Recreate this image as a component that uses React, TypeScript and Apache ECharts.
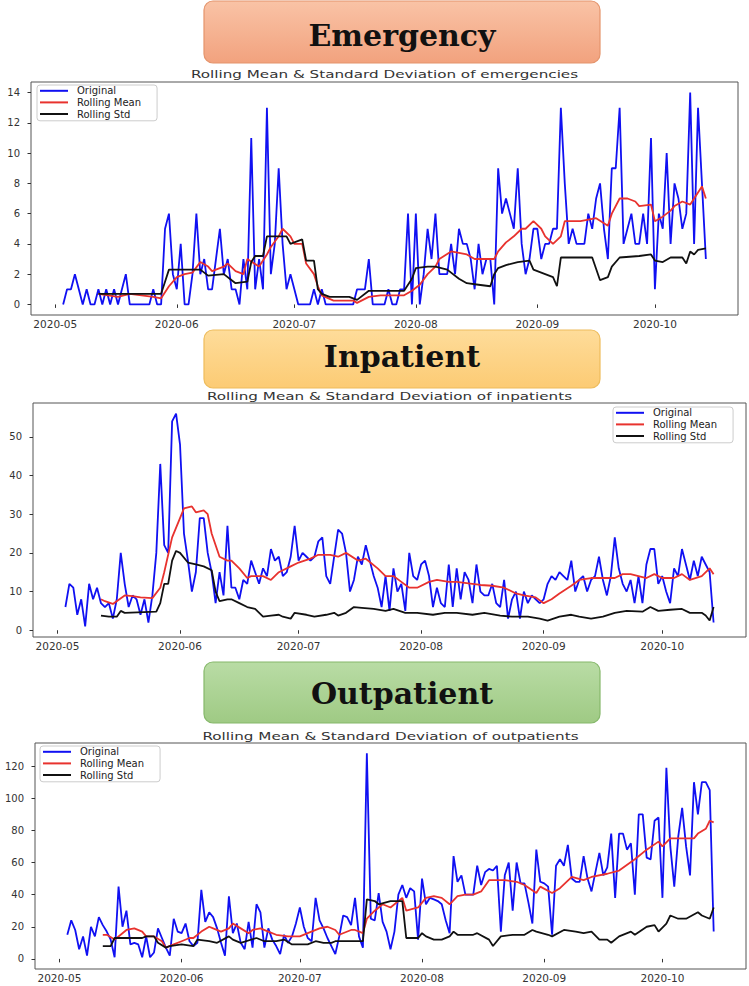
import React, { useEffect, useRef } from "react";
import * as echarts from "echarts";

// ---------- data ----------
const START_DATE = "2020-05-03"; // first daily observation
const END_DATE = "2020-10-14"; // last daily observation
const monthTicks = ["2020-05-01", "2020-06-01", "2020-07-01", "2020-08-01", "2020-09-01", "2020-10-01"];

const seriesNames = ["Original", "Rolling Mean", "Rolling Std"];
const bannerTitles = ["Emergency", "Inpatient", "Outpatient"];
const chartTitles = [
  "Rolling Mean & Standard Deviation of emergencies",
  "Rolling Mean & Standard Deviation of inpatients",
  "Rolling Mean & Standard Deviation of outpatients",
];

const emergencyTicks = [0, 2, 4, 6, 8, 10, 12, 14];
const inpatientTicks = [0, 10, 20, 30, 40, 50];
const outpatientTicks = [0, 20, 40, 60, 80, 100, 120];

// daily values, May 3 .. Oct 14
const emergencyOriginal = [
  0, 1, 1, 2, 1, 0, 1, 0, 0, 1, 0, 1, 0, 1, 0, 1, 2, 0, 0, 0, 0, 0, 0, 1, 0, 0, 5, 6, 2,
  1, 4, 0, 0, 2, 6, 2, 3, 1, 1, 3, 5, 2, 3, 1, 1, 0, 3, 1, 11, 1, 3, 1, 13, 2, 4, 9, 4, 1, 2,
  1, 0, 0, 0, 0, 1, 0, 1, 0, 0, 0, 0, 0, 0, 0, 0, 1, 1, 1, 3, 0, 0, 0, 0, 1, 0, 0, 1, 1, 6, 0,
  6, 0, 2, 5, 3, 6, 2, 2, 2, 4, 2, 5, 4, 4, 3, 1, 4, 2, 3, 3, 0, 9, 6, 7, 6, 5, 9, 4, 2, 3, 5,
  5, 3, 4, 4, 5, 5, 13, 8, 4, 5, 4, 4, 4, 6, 5, 7, 8, 5, 3, 9, 9, 13, 4, 5, 6, 4, 4, 6, 4, 11,
  1, 6, 5, 10, 4, 8, 7, 5, 6, 14, 4, 13, 8, 3,
];

const inpatientOriginal = [
  6, 12, 11, 4, 8, 1, 12, 8, 11, 7, 6, 7, 3, 8, 20, 12, 6, 9, 8, 4, 8, 2, 9, 20, 43, 22, 20, 54, 56,
  48, 25, 18, 10, 15, 29, 29, 20, 15, 7, 15, 9, 27, 11, 11, 8, 13, 12, 18, 15, 12, 16, 14, 21, 18, 19, 14, 15, 19, 27,
  18, 20, 19, 18, 19, 23, 24, 14, 12, 19, 26, 25, 20, 10, 13, 19, 17, 22, 18, 14, 11, 6, 14, 5, 16, 10, 12, 5, 20, 14, 13,
  17, 18, 14, 6, 11, 7, 6, 17, 6, 16, 8, 15, 13, 7, 17, 10, 9, 9, 12, 7, 6, 13, 3, 8, 10, 3, 10, 7, 9, 8, 7,
  8, 12, 14, 13, 15, 14, 13, 18, 10, 13, 14, 10, 13, 14, 19, 13, 9, 14, 24, 16, 12, 10, 13, 7, 14, 7, 17, 21, 21, 12,
  14, 10, 7, 16, 14, 21, 17, 13, 18, 14, 19, 17, 15, 2,
];

const outpatientOriginal = [
  15, 24, 18, 6, 14, 2, 20, 14, 26, 21, 17, 12, 1, 45, 20, 30, 9, 10, 9, 1, 14, 1, 4, 19, 13, 7, 2, 25, 17,
  16, 22, 11, 8, 10, 43, 23, 29, 26, 19, 10, 2, 39, 16, 22, 10, 6, 23, 7, 34, 29, 7, 19, 12, 8, 3, 15, 10, 14, 22,
  32, 20, 13, 11, 38, 24, 19, 13, 8, 3, 14, 27, 26, 21, 38, 14, 7, 128, 25, 24, 41, 23, 17, 6, 17, 40, 46, 38, 44, 42, 12,
  50, 34, 38, 37, 36, 34, 24, 16, 64, 48, 52, 40, 40, 40, 58, 46, 54, 56, 55, 58, 17, 52, 60, 30, 60, 47, 47, 35, 22, 68, 48,
  47, 45, 15, 58, 62, 58, 71, 50, 48, 48, 64, 50, 42, 54, 66, 52, 57, 78, 38, 78, 78, 68, 72, 40, 90, 90, 63, 62, 86, 88,
  38, 119, 70, 45, 76, 94, 70, 52, 110, 90, 110, 110, 105, 17,
];

// rolling statistics: [date, value]
const emergencyMean: [string, number][] = [
  ["2020-05-12", 0.7], ["2020-05-17", 0.5], ["2020-05-20", 0.7], ["2020-05-23", 0.6], ["2020-05-26", 0.5],
  ["2020-05-28", 0.4], ["2020-05-30", 1.2], ["2020-06-01", 1.8], ["2020-06-03", 2.0], ["2020-06-05", 2.1],
  ["2020-06-07", 2.8], ["2020-06-09", 2.5], ["2020-06-10", 2.2], ["2020-06-13", 2.5], ["2020-06-14", 2.7],
  ["2020-06-16", 2.2], ["2020-06-18", 2.0], ["2020-06-19", 3.0], ["2020-06-22", 2.5], ["2020-06-24", 3.3],
  ["2020-06-25", 3.8], ["2020-06-27", 4.5], ["2020-06-28", 5.0], ["2020-06-30", 4.5], ["2020-07-01", 4.0],
  ["2020-07-03", 4.0], ["2020-07-04", 2.7], ["2020-07-06", 2.0], ["2020-07-07", 1.2], ["2020-07-08", 0.6],
  ["2020-07-11", 0.25], ["2020-07-16", 0.25], ["2020-07-17", 0.1], ["2020-07-20", 0.5], ["2020-07-23", 0.6],
  ["2020-07-29", 0.6], ["2020-07-31", 0.9], ["2020-08-02", 1.3], ["2020-08-04", 2.0], ["2020-08-06", 2.5],
  ["2020-08-07", 3.0], ["2020-08-10", 3.5], ["2020-08-14", 3.3], ["2020-08-16", 3.0], ["2020-08-21", 3.0],
  ["2020-08-22", 3.5], ["2020-08-24", 4.1], ["2020-08-26", 4.5], ["2020-08-28", 5.0], ["2020-08-29", 5.0],
  ["2020-08-31", 5.5], ["2020-09-02", 5.0], ["2020-09-03", 4.5], ["2020-09-05", 4.0], ["2020-09-07", 4.5],
  ["2020-09-08", 5.5], ["2020-09-12", 5.5], ["2020-09-16", 5.7], ["2020-09-19", 5.2], ["2020-09-20", 6.0],
  ["2020-09-22", 7.0], ["2020-09-24", 7.0], ["2020-09-26", 6.8], ["2020-09-27", 6.5], ["2020-09-30", 6.6],
  ["2020-10-01", 5.5], ["2020-10-03", 5.8], ["2020-10-05", 6.2], ["2020-10-06", 6.5], ["2020-10-08", 6.8],
  ["2020-10-10", 6.6], ["2020-10-11", 7.0], ["2020-10-13", 7.8], ["2020-10-14", 7.0],
];

const emergencyStd: [string, number][] = [
  ["2020-05-12", 0.7], ["2020-05-20", 0.7], ["2020-05-28", 0.7], ["2020-05-29", 1.5], ["2020-05-30", 2.3],
  ["2020-06-07", 2.3], ["2020-06-09", 1.9], ["2020-06-13", 2.0], ["2020-06-15", 1.6], ["2020-06-16", 1.4],
  ["2020-06-19", 1.5], ["2020-06-20", 2.8], ["2020-06-21", 3.2], ["2020-06-23", 3.2], ["2020-06-24", 4.5],
  ["2020-06-29", 4.5], ["2020-06-30", 4.0], ["2020-07-02", 4.2], ["2020-07-03", 4.3], ["2020-07-04", 2.9],
  ["2020-07-06", 2.9], ["2020-07-07", 1.0], ["2020-07-08", 0.7], ["2020-07-10", 0.5], ["2020-07-15", 0.5],
  ["2020-07-17", 0.3], ["2020-07-20", 0.9], ["2020-07-29", 0.9], ["2020-07-30", 1.3], ["2020-07-31", 1.7],
  ["2020-08-01", 2.4], ["2020-08-04", 2.5], ["2020-08-06", 2.5], ["2020-08-09", 2.3], ["2020-08-12", 1.7],
  ["2020-08-14", 1.4], ["2020-08-17", 1.3], ["2020-08-20", 1.2], ["2020-08-21", 2.0], ["2020-08-22", 2.4],
  ["2020-08-24", 2.6], ["2020-08-27", 2.8], ["2020-08-30", 2.9], ["2020-08-31", 2.3], ["2020-09-03", 2.0],
  ["2020-09-05", 1.8], ["2020-09-06", 1.2], ["2020-09-07", 3.1], ["2020-09-15", 3.1], ["2020-09-17", 1.6],
  ["2020-09-19", 1.8], ["2020-09-20", 2.5], ["2020-09-22", 3.1], ["2020-09-27", 3.2], ["2020-09-30", 3.3],
  ["2020-10-01", 2.9], ["2020-10-03", 2.8], ["2020-10-05", 3.1], ["2020-10-08", 3.1], ["2020-10-09", 2.7],
  ["2020-10-10", 3.5], ["2020-10-11", 3.3], ["2020-10-12", 3.6], ["2020-10-14", 3.7],
];

const inpatientMean: [string, number][] = [
  ["2020-05-12", 8.0], ["2020-05-13", 7.5], ["2020-05-15", 6.8], ["2020-05-18", 9.0], ["2020-05-20", 8.8],
  ["2020-05-22", 8.5], ["2020-05-25", 8.3], ["2020-05-27", 11], ["2020-05-28", 15], ["2020-05-30", 24],
  ["2020-06-01", 29], ["2020-06-02", 31.5], ["2020-06-04", 32], ["2020-06-05", 30.5], ["2020-06-07", 31],
  ["2020-06-08", 30], ["2020-06-09", 25], ["2020-06-11", 19], ["2020-06-13", 18], ["2020-06-14", 18],
  ["2020-06-16", 16], ["2020-06-18", 13.5], ["2020-06-19", 14], ["2020-06-22", 14], ["2020-06-24", 13],
  ["2020-06-26", 15], ["2020-06-29", 16.5], ["2020-07-01", 17.5], ["2020-07-04", 18.5], ["2020-07-06", 19.5],
  ["2020-07-09", 19.5], ["2020-07-11", 19], ["2020-07-13", 20], ["2020-07-16", 18], ["2020-07-18", 18.5],
  ["2020-07-21", 16], ["2020-07-23", 14], ["2020-07-25", 14], ["2020-07-27", 12.5], ["2020-07-29", 11],
  ["2020-07-31", 11], ["2020-08-03", 12.5], ["2020-08-05", 13], ["2020-08-08", 12.5], ["2020-08-10", 12.5],
  ["2020-08-14", 12], ["2020-08-16", 11.7], ["2020-08-19", 11.5], ["2020-08-22", 11], ["2020-08-25", 9.5],
  ["2020-08-27", 9], ["2020-08-30", 8.5], ["2020-09-01", 7], ["2020-09-03", 8], ["2020-09-05", 9.5],
  ["2020-09-08", 11.5], ["2020-09-10", 13], ["2020-09-13", 13.5], ["2020-09-16", 13.5], ["2020-09-19", 13.5],
  ["2020-09-21", 14.5], ["2020-09-23", 14.5], ["2020-09-25", 14], ["2020-09-27", 13.5], ["2020-09-29", 14.5],
  ["2020-10-01", 13.5], ["2020-10-04", 13.5], ["2020-10-06", 14.5], ["2020-10-08", 13], ["2020-10-11", 14],
  ["2020-10-13", 16], ["2020-10-14", 14.5],
];

const inpatientStd: [string, number][] = [
  ["2020-05-12", 3.8], ["2020-05-14", 3.5], ["2020-05-16", 3.5], ["2020-05-17", 5], ["2020-05-18", 4.5],
  ["2020-05-26", 4.8], ["2020-05-27", 7], ["2020-05-28", 12], ["2020-05-29", 12], ["2020-05-30", 18],
  ["2020-05-31", 20.5], ["2020-06-01", 20], ["2020-06-03", 17.5], ["2020-06-05", 17], ["2020-06-07", 16.5],
  ["2020-06-09", 15.5], ["2020-06-10", 10], ["2020-06-11", 7.5], ["2020-06-13", 8], ["2020-06-14", 8],
  ["2020-06-16", 7], ["2020-06-18", 6], ["2020-06-20", 5.5], ["2020-06-22", 3.5], ["2020-06-24", 3.8],
  ["2020-06-26", 4], ["2020-06-27", 3.5], ["2020-06-29", 3], ["2020-06-30", 4.5], ["2020-07-03", 4],
  ["2020-07-05", 3.5], ["2020-07-08", 4], ["2020-07-10", 4.5], ["2020-07-11", 3.8], ["2020-07-13", 4.5],
  ["2020-07-15", 6], ["2020-07-17", 5.8], ["2020-07-20", 5.5], ["2020-07-23", 5], ["2020-07-25", 5.5],
  ["2020-07-28", 4.5], ["2020-07-31", 4.5], ["2020-08-04", 4], ["2020-08-07", 4.5], ["2020-08-10", 4.5],
  ["2020-08-14", 4], ["2020-08-17", 4.5], ["2020-08-21", 3.8], ["2020-08-24", 3.5], ["2020-08-28", 3.5],
  ["2020-08-31", 3], ["2020-09-02", 2.5], ["2020-09-05", 3.5], ["2020-09-08", 4], ["2020-09-10", 3.5],
  ["2020-09-13", 3], ["2020-09-16", 3.5], ["2020-09-19", 4.5], ["2020-09-22", 5], ["2020-09-26", 4.8],
  ["2020-09-28", 6], ["2020-09-30", 5], ["2020-10-03", 5.3], ["2020-10-06", 5.5], ["2020-10-08", 4.5],
  ["2020-10-11", 4.5], ["2020-10-12", 3.8], ["2020-10-13", 2.5], ["2020-10-14", 6],
];

const outpatientMean: [string, number][] = [
  ["2020-05-12", 15], ["2020-05-13", 15], ["2020-05-15", 12], ["2020-05-17", 16], ["2020-05-18", 18],
  ["2020-05-20", 19], ["2020-05-22", 17], ["2020-05-23", 14], ["2020-05-25", 14], ["2020-05-27", 11],
  ["2020-05-28", 7], ["2020-05-30", 9], ["2020-06-01", 11], ["2020-06-03", 13], ["2020-06-04", 13],
  ["2020-06-06", 17], ["2020-06-08", 20], ["2020-06-09", 19], ["2020-06-11", 17], ["2020-06-13", 19],
  ["2020-06-14", 22], ["2020-06-16", 19], ["2020-06-18", 16], ["2020-06-19", 18], ["2020-06-21", 19],
  ["2020-06-23", 17], ["2020-06-25", 15], ["2020-06-28", 14], ["2020-07-01", 14], ["2020-07-03", 16],
  ["2020-07-06", 19], ["2020-07-08", 20], ["2020-07-10", 18], ["2020-07-11", 15], ["2020-07-14", 18],
  ["2020-07-15", 18], ["2020-07-17", 16], ["2020-07-18", 25], ["2020-07-20", 30], ["2020-07-22", 34],
  ["2020-07-24", 32], ["2020-07-27", 38], ["2020-07-28", 30], ["2020-07-31", 32], ["2020-08-02", 38],
  ["2020-08-04", 39], ["2020-08-06", 38], ["2020-08-08", 34], ["2020-08-10", 39], ["2020-08-12", 40],
  ["2020-08-14", 40], ["2020-08-16", 42], ["2020-08-18", 49], ["2020-08-20", 49], ["2020-08-22", 49],
  ["2020-08-25", 48], ["2020-08-27", 46], ["2020-08-30", 41], ["2020-08-31", 45], ["2020-09-03", 41],
  ["2020-09-05", 44], ["2020-09-08", 51], ["2020-09-11", 49], ["2020-09-13", 51], ["2020-09-17", 53],
  ["2020-09-20", 55], ["2020-09-24", 62], ["2020-09-27", 68], ["2020-09-30", 73], ["2020-10-01", 70],
  ["2020-10-03", 75], ["2020-10-06", 75], ["2020-10-09", 75], ["2020-10-10", 78], ["2020-10-12", 81],
  ["2020-10-13", 86], ["2020-10-14", 85],
];

const outpatientStd: [string, number][] = [
  ["2020-05-12", 8], ["2020-05-14", 8], ["2020-05-15", 13], ["2020-05-18", 13], ["2020-05-22", 13],
  ["2020-05-23", 14], ["2020-05-25", 14], ["2020-05-26", 10], ["2020-05-28", 7], ["2020-05-29", 8],
  ["2020-06-01", 9], ["2020-06-04", 8], ["2020-06-05", 12], ["2020-06-08", 11], ["2020-06-10", 10],
  ["2020-06-13", 14], ["2020-06-14", 12], ["2020-06-16", 10], ["2020-06-20", 13], ["2020-06-22", 11],
  ["2020-06-25", 11], ["2020-06-27", 12], ["2020-06-29", 9], ["2020-07-02", 9], ["2020-07-03", 9],
  ["2020-07-05", 11], ["2020-07-07", 10], ["2020-07-09", 10], ["2020-07-10", 11], ["2020-07-17", 11],
  ["2020-07-18", 37], ["2020-07-20", 36], ["2020-07-21", 34], ["2020-07-24", 36], ["2020-07-27", 36],
  ["2020-07-28", 13], ["2020-07-31", 13], ["2020-08-01", 16], ["2020-08-02", 14], ["2020-08-04", 12],
  ["2020-08-06", 12], ["2020-08-08", 14], ["2020-08-09", 17], ["2020-08-10", 15], ["2020-08-14", 15],
  ["2020-08-15", 16], ["2020-08-18", 12], ["2020-08-19", 8], ["2020-08-21", 14], ["2020-08-24", 15],
  ["2020-08-27", 15], ["2020-08-29", 18], ["2020-08-30", 17], ["2020-09-02", 15], ["2020-09-03", 14],
  ["2020-09-06", 18], ["2020-09-09", 17], ["2020-09-11", 16], ["2020-09-13", 17], ["2020-09-15", 12],
  ["2020-09-17", 12], ["2020-09-18", 10], ["2020-09-20", 14], ["2020-09-23", 17], ["2020-09-24", 15],
  ["2020-09-27", 20], ["2020-09-29", 21], ["2020-09-30", 17], ["2020-10-02", 22], ["2020-10-03", 27],
  ["2020-10-05", 25], ["2020-10-07", 25], ["2020-10-10", 29], ["2020-10-11", 27], ["2020-10-13", 25],
  ["2020-10-14", 32],
];

// ---------- helpers ----------
const DAY = 86400000;
function ts(s: string): number {
  const [y, m, d] = s.split("-").map(Number);
  return Date.UTC(y, m - 1, d);
}
function daily(vals: number[]) {
  const t0 = ts(START_DATE);
  return vals.map((v, i) => [t0 + i * DAY, v]);
}
function pairs(p: [string, number][]) {
  return p.map(([d, v]) => [ts(d), v]);
}
function monthLabel(v: number): string {
  const d = new Date(v);
  const m = d.getUTCMonth() + 1;
  return d.getUTCFullYear() + "-" + (m < 10 ? "0" + m : "" + m);
}

// ---------- layout (pixels) ----------
const layout = [
  { grid: { left: 31, top: 82, width: 707, height: 233 }, yMin: -0.7, yMax: 14.7, titleY: 74.5, legend: { left: 37, top: 85 },
    banner: { x: 204, y: 1, w: 396, h: 62, textY: 35, c0: "#f9c3a6", c1: "#f2a27e", border: "#e4946c" } },
  { grid: { left: 33, top: 403, width: 713, height: 234 }, yMin: -1.75, yMax: 58.75, titleY: 396, legend: { left: 613, top: 407 },
    banner: { x: 204, y: 330, w: 396, h: 58, textY: 356, c0: "#fedc9a", c1: "#fccb74", border: "#eebc5c" } },
  { grid: { left: 35, top: 743, width: 711, height: 226 }, yMin: -6.3, yMax: 134.4, titleY: 736, legend: { left: 40, top: 746 },
    banner: { x: 204, y: 662, w: 396, h: 61, textY: 693, c0: "#b9dca5", c1: "#9fca84", border: "#86b86b" } },
];

const COLORS = ["#1010f2", "#e8322e", "#111111"];

export default function App() {
  const ref = useRef<HTMLDivElement>(null);

  useEffect(() => {
    if (!ref.current) return;
    const chart = echarts.init(ref.current, null, { renderer: "svg" });

    const panelData = [
      { original: emergencyOriginal, mean: emergencyMean, std: emergencyStd, ticks: emergencyTicks },
      { original: inpatientOriginal, mean: inpatientMean, std: inpatientStd, ticks: inpatientTicks },
      { original: outpatientOriginal, mean: outpatientMean, std: outpatientStd, ticks: outpatientTicks },
    ];
    const monthTs = monthTicks.map(ts);
    const xMin = ts(START_DATE) - 8.2 * DAY;
    const xMax = ts(END_DATE) + 8.2 * DAY;

    const grids: any[] = [];
    const xAxes: any[] = [];
    const yAxes: any[] = [];
    const series: any[] = [];
    const legends: any[] = [];
    const graphics: any[] = [];

    panelData.forEach((p, i) => {
      const L = layout[i];
      grids.push({
        ...L.grid,
        show: true,
        borderColor: "#555",
        borderWidth: 1,
        backgroundColor: "#fff",
        containLabel: false,
        outerBoundsMode: "none",
      });
      xAxes.push({
        type: "value",
        gridIndex: i,
        min: xMin,
        max: xMax,
        splitLine: { show: false },
        axisLine: { show: false },
        axisTick: { show: true, customValues: monthTs, length: 3.5, lineStyle: { color: "#333" } },
        axisLabel: {
          customValues: monthTs,
          formatter: (v: number) => monthLabel(v),
          fontSize: 10.5,
          fontFamily: "DejaVu Sans",
          color: "#333",
          margin: 3,
        },
      });
      yAxes.push({
        type: "value",
        gridIndex: i,
        min: L.yMin,
        max: L.yMax,
        splitLine: { show: false },
        axisLine: { show: false },
        axisTick: { show: true, customValues: p.ticks, length: 3.5, lineStyle: { color: "#333" } },
        axisLabel: {
          customValues: p.ticks,
          fontSize: 10,
          fontFamily: "DejaVu Sans",
          color: "#333",
          margin: 11,
        },
      });
      const datasets = [daily(p.original), pairs(p.mean), pairs(p.std)];
      datasets.forEach((d, k) => {
        series.push({
          type: "line",
          name: seriesNames[k],
          xAxisIndex: i,
          yAxisIndex: i,
          data: d,
          showSymbol: false,
          symbol: "none",
          itemStyle: { color: COLORS[k] },
          lineStyle: { color: COLORS[k], width: 1.8 },
          z: 2 + k,
        });
      });
      legends.push({
        data: seriesNames,
        orient: "vertical",
        left: L.legend.left,
        top: L.legend.top,
        icon: "rect",
        itemWidth: 28,
        itemHeight: 2,
        itemGap: 0,
        padding: [0, 16, 1, 3],
        borderColor: "#cccccc",
        borderWidth: 1,
        borderRadius: 3,
        backgroundColor: "rgba(255,255,255,0.85)",
        selectedMode: false,
        itemStyle: { borderWidth: 0 },
        textStyle: { fontSize: 10, lineHeight: 11.6, color: "#222", fontFamily: "DejaVu Sans", padding: [0, 0, 0, 4] },
      });
      const cx = L.grid.left + L.grid.width / 2;
      graphics.push({
        type: "text",
        x: cx,
        y: L.titleY,
        scaleX: 1.38,
        style: {
          text: chartTitles[i],
          fontSize: 11,
          fontFamily: "DejaVu Sans",
          fill: "#333",
          align: "center",
          verticalAlign: "middle",
        },
      });
      const B = L.banner;
      graphics.push({
        type: "rect",
        shape: { x: B.x, y: B.y, width: B.w, height: B.h, r: 9 },
        style: {
          fill: new echarts.graphic.LinearGradient(0, 0, 0, 1, [
            { offset: 0, color: B.c0 },
            { offset: 1, color: B.c1 },
          ]),
          stroke: B.border,
          lineWidth: 1.2,
        },
      });
      graphics.push({
        type: "text",
        x: B.x + B.w / 2,
        y: B.textY,
        style: {
          text: bannerTitles[i],
          fontSize: 30,
          fontWeight: "bold",
          fontFamily: "DejaVu Serif",
          fill: "#111",
          align: "center",
          verticalAlign: "middle",
        },
      });
    });

    chart.setOption({
      animation: false,
      backgroundColor: "#ffffff",
      grid: grids,
      xAxis: xAxes,
      yAxis: yAxes,
      series,
      legend: legends,
      graphic: graphics,
    });

    return () => chart.dispose();
  }, []);

  return (
    <div
      ref={ref}
      style={{ position: "absolute", left: 0, top: 0, width: 749, height: 986, background: "#fff" }}
    />
  );
}
